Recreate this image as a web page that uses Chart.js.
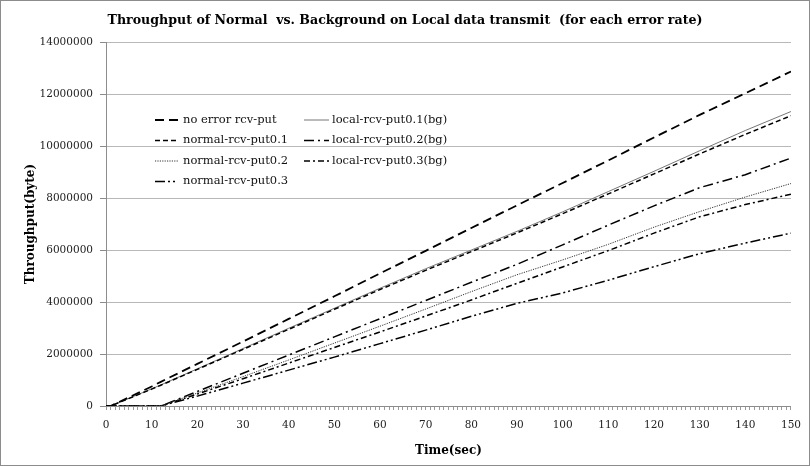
<!DOCTYPE html>
<html>
<head>
<meta charset="utf-8">
<script src="https://cdn.jsdelivr.net/npm/chart.js@4/dist/chart.umd.min.js"></script>
<style>
  html, body { margin: 0; padding: 0; background: #fff; }
  #wrap { width: 810px; height: 466px; }
</style>
</head>
<body>
<div id="wrap"><canvas id="throughputChart" width="810" height="466"></canvas></div>
<script>
// seconds
const times = [0, 1, 10, 12, 20, 30, 40, 50, 60, 70, 80, 90, 100, 110, 120, 130, 140, 150];

// bytes, in millions
const noErrorPut = [0, 0, 0.75, 0.93, 1.62, 2.48, 3.35, 4.22, 5.10, 5.97, 6.85, 7.72, 8.58, 9.45, 10.33, 11.20, 12.03, 12.87];
const normalPut01 = [0, 0, 0.65, 0.80, 1.41, 2.18, 2.95, 3.72, 4.48, 5.22, 5.94, 6.66, 7.40, 8.16, 8.93, 9.70, 10.45, 11.17];
const normalPut02 = [0, 0, 0, 0, 0.50, 1.13, 1.77, 2.42, 3.07, 3.73, 4.40, 5.05, 5.62, 6.22, 6.88, 7.48, 8.04, 8.56];
const normalPut03 = [0, 0, 0, 0, 0.38, 0.88, 1.38, 1.88, 2.40, 2.92, 3.45, 3.95, 4.35, 4.84, 5.36, 5.86, 6.27, 6.65];
const localPut01 = [0, 0, 0.66, 0.81, 1.43, 2.21, 2.99, 3.76, 4.53, 5.28, 6.00, 6.72, 7.47, 8.25, 9.03, 9.82, 10.60, 11.33];
const localPut02 = [0, 0, 0, 0, 0.56, 1.26, 1.96, 2.66, 3.36, 4.06, 4.76, 5.45, 6.20, 6.96, 7.70, 8.40, 8.90, 9.54];
const localPut03 = [0, 0, 0, 0, 0.46, 1.05, 1.65, 2.25, 2.85, 3.46, 4.08, 4.72, 5.35, 5.98, 6.65, 7.28, 7.75, 8.15];

const yTicks = [0, 2000000, 4000000, 6000000, 8000000, 10000000, 12000000, 14000000];
const xTicks = [0, 10, 20, 30, 40, 50, 60, 70, 80, 90, 100, 110, 120, 130, 140, 150];

const FONT = "'DejaVu Serif', Georgia, serif";

function toPoints(values) {
  return values.map((v, i) => ({ x: times[i], y: v * 1000000 }));
}

function series(label, values, color, width, dash, col, row) {
  return {
    label: label,
    data: toPoints(values),
    borderColor: color,
    borderWidth: width,
    borderDash: dash,
    pointRadius: 0,
    tension: 0,
    fill: false,
    legendCol: col,
    legendRow: row
  };
}

const datasets = [
  series('no error rcv-put', noErrorPut, '#000', 1.8, [9, 5], 0, 0),
  series('normal-rcv-put0.1', normalPut01, '#000', 1.5, [5, 3], 0, 1),
  series('normal-rcv-put0.2', normalPut02, '#333', 1, [1.2, 1.2], 0, 2),
  series('normal-rcv-put0.3', normalPut03, '#000', 1.5, [10, 3, 2, 3, 2, 3], 0, 3),
  series('local-rcv-put0.1(bg)', localPut01, '#777', 1, [], 1, 0),
  series('local-rcv-put0.2(bg)', localPut02, '#000', 1.5, [10, 4, 2, 4], 1, 1),
  series('local-rcv-put0.3(bg)', localPut03, '#000', 1.5, [6, 3, 2, 3], 1, 2)
];

// two-column legend drawn inside the plot, column by column like the original
const columnLegend = {
  id: 'columnLegend',
  afterDraw(chart) {
    const ctx = chart.ctx;
    const cols = [{ x0: 155, x1: 178, tx: 183 }, { x0: 304, x1: 329, tx: 332 }];
    const rows = [120, 140.5, 161, 181.5];
    ctx.save();
    ctx.font = "11.5px " + FONT;
    ctx.textBaseline = 'middle';
    ctx.fillStyle = '#111';
    chart.data.datasets.forEach(ds => {
      const c = cols[ds.legendCol];
      const y = rows[ds.legendRow];
      ctx.beginPath();
      ctx.strokeStyle = ds.borderColor;
      ctx.lineWidth = ds.borderWidth;
      ctx.setLineDash(ds.borderDash);
      ctx.moveTo(c.x0, y);
      ctx.lineTo(c.x1, y);
      ctx.stroke();
      ctx.setLineDash([]);
      ctx.fillText(ds.label, c.tx, y);
    });
    ctx.restore();
  }
};

const frame = {
  id: 'frame',
  beforeDraw(chart) {
    const ctx = chart.ctx;
    ctx.save();
    ctx.fillStyle = '#fff';
    ctx.fillRect(0, 0, chart.width, chart.height);
    ctx.restore();
  },
  afterDraw(chart) {
    const ctx = chart.ctx;
    ctx.save();
    ctx.strokeStyle = '#8c8c8c';
    ctx.lineWidth = 1;
    ctx.strokeRect(0.5, 0.5, chart.width - 1, chart.height - 1);
    ctx.restore();
  }
};

new Chart(document.getElementById('throughputChart'), {
  type: 'line',
  data: { datasets: datasets },
  plugins: [frame, columnLegend],
  options: {
    responsive: false,
    animation: false,
    events: [],
    layout: { padding: { left: 16, right: 16, top: 0, bottom: 0 } },
    plugins: {
      legend: { display: false },
      tooltip: { enabled: false },
      title: {
        display: true,
        text: 'Throughput of Normal  vs. Background on Local data transmit  (for each error rate)',
        color: '#000',
        font: { family: FONT, size: 12.6, weight: 'bold' },
        padding: { top: 13, bottom: 14 }
      }
    },
    scales: {
      x: {
        type: 'linear',
        min: 0,
        max: 150,
        afterFit: s => { s.height = 60; },
        afterBuildTicks: s => {
          const all = [];
          for (let t = 0; t <= 150; t++) all.push({ value: t });
          s.ticks = all;
        },
        ticks: {
          autoSkip: false,
          maxRotation: 0,
          padding: 9,
          color: '#222',
          font: { family: FONT, size: 10.5 },
          callback: v => (xTicks.includes(v) ? String(v) : '')
        },
        grid: { drawOnChartArea: false, tickLength: 4, color: '#9a9a9a' },
        border: { color: '#8c8c8c' },
        title: {
          display: true,
          text: 'Time(sec)',
          color: '#000',
          font: { family: FONT, size: 12, weight: 'bold' },
          padding: { top: 0, bottom: 8 }
        }
      },
      y: {
        min: 0,
        max: 14000000,
        afterFit: s => { s.width = 90; },
        afterBuildTicks: s => { s.ticks = yTicks.map(v => ({ value: v })); },
        ticks: {
          padding: 7,
          color: '#222',
          font: { family: FONT, size: 10.5 },
          callback: v => String(v)
        },
        grid: { color: '#b8b8b8', tickLength: 6, tickColor: '#8c8c8c' },
        border: { color: '#8c8c8c' },
        title: {
          display: true,
          text: 'Throughput(byte)',
          color: '#000',
          font: { family: FONT, size: 12, weight: 'bold' },
          padding: { top: 8, bottom: 4 }
        }
      }
    }
  }
});
</script>
</body>
</html>
